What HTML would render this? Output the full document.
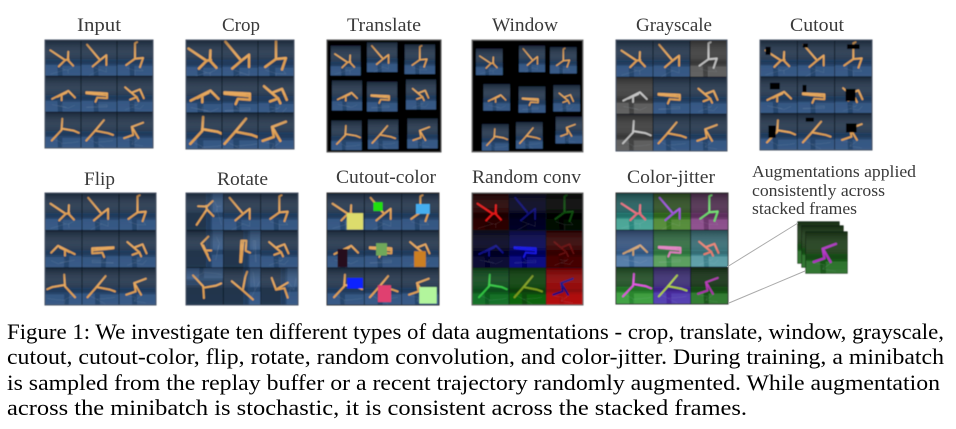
<!DOCTYPE html>
<html>
<head>
<meta charset="utf-8">
<style>
html,body{margin:0;padding:0;background:#fff;}
svg{display:block;}
.title{font-family:"Liberation Serif",serif;font-size:19px;fill:#3a3a3a;}
.note{font-family:"Liberation Serif",serif;font-size:17px;fill:#3a3a3a;}
.cap{font-family:"Liberation Serif",serif;font-size:21.7px;fill:#000;}
</style>
</head>
<body>
<svg id="fig" xmlns="http://www.w3.org/2000/svg" width="956" height="429" viewBox="0 0 956 429">
<defs>
<filter id="soft" x="-5%" y="-5%" width="110%" height="110%"><feGaussianBlur stdDeviation="0.4"/></filter>
<linearGradient id="shade" x1="0" y1="0" x2="0" y2="1">
<stop offset="0" stop-color="#000" stop-opacity=".28"/>
<stop offset=".5" stop-color="#fff" stop-opacity=".04"/>
<stop offset=".56" stop-color="#000" stop-opacity=".05"/>
<stop offset="1" stop-color="#000" stop-opacity="0"/>
</linearGradient>
</defs>
<g id="grids" filter="url(#soft)"></g>
<line x1="727" y1="267" x2="798" y2="223" stroke="#aaa" stroke-width="1"/>
<line x1="729" y1="303" x2="805" y2="271" stroke="#aaa" stroke-width="1"/>

<text class="title" x="77" y="31" textLength="44" lengthAdjust="spacingAndGlyphs">Input</text>
<text class="title" x="222" y="31" textLength="38" lengthAdjust="spacingAndGlyphs">Crop</text>
<text class="title" x="347" y="31" textLength="74" lengthAdjust="spacingAndGlyphs">Translate</text>
<text class="title" x="492" y="31" textLength="66" lengthAdjust="spacingAndGlyphs">Window</text>
<text class="title" x="636" y="31" textLength="76" lengthAdjust="spacingAndGlyphs">Grayscale</text>
<text class="title" x="790" y="31" textLength="54" lengthAdjust="spacingAndGlyphs">Cutout</text>
<text class="title" x="84" y="185" textLength="31" lengthAdjust="spacingAndGlyphs">Flip</text>
<text class="title" x="217" y="185" textLength="51" lengthAdjust="spacingAndGlyphs">Rotate</text>
<text class="title" x="336" y="183" textLength="100" lengthAdjust="spacingAndGlyphs">Cutout-color</text>
<text class="title" x="472" y="183" textLength="109" lengthAdjust="spacingAndGlyphs">Random conv</text>
<text class="title" x="627" y="183" textLength="88" lengthAdjust="spacingAndGlyphs">Color-jitter</text>

<text class="note" x="752" y="177" textLength="164" lengthAdjust="spacingAndGlyphs">Augmentations applied</text>
<text class="note" x="752" y="196" textLength="133" lengthAdjust="spacingAndGlyphs">consistently across</text>
<text class="note" x="752" y="214" textLength="105" lengthAdjust="spacingAndGlyphs">stacked frames</text>

<text class="cap" x="7" y="339" textLength="937" lengthAdjust="spacingAndGlyphs">Figure 1: We investigate ten different types of data augmentations - crop, translate, window, grayscale,</text>
<text class="cap" x="7" y="364" textLength="937" lengthAdjust="spacingAndGlyphs">cutout, cutout-color, flip, rotate, random convolution, and color-jitter. During training, a minibatch</text>
<text class="cap" x="7" y="390" textLength="933" lengthAdjust="spacingAndGlyphs">is sampled from the replay buffer or a recent trajectory randomly augmented. While augmentation</text>
<text class="cap" x="7" y="415" textLength="740" lengthAdjust="spacingAndGlyphs">across the minibatch is stochastic, it is consistent across the stacked frames.</text>
</svg>
<script>
var NS = 'http://www.w3.org/2000/svg';
var poses = [
 [[[.14,.28],[.56,.56],[.38,.74]],[[.65,.32],[.64,.56],[.79,.72]],[[.56,.56],[.66,.54]]],
 [[[.16,.12],[.53,.56],[.32,.74]],[[.53,.56],[.71,.42],[.71,.70]]],
 [[[.56,.05],[.50,.08],[.50,.52],[.25,.70]],[[.50,.52],[.73,.50],[.64,.76]]],
 [[[.19,.64],[.65,.41],[.84,.60]],[[.46,.52],[.46,.68]],[[.60,.46],[.34,.58]]],
 [[[.14,.45],[.73,.48],[.73,.62],[.45,.60],[.40,.72]],[[.14,.48],[.73,.54]]],
 [[[.22,.31],[.55,.59],[.36,.66]],[[.41,.46],[.64,.37],[.75,.62]],[[.55,.59],[.60,.70]]],
 [[[.48,.18],[.46,.50],[.18,.80]],[[.46,.46],[.81,.52],[.95,.58]]],
 [[[.64,.22],[.39,.52],[.14,.80]],[[.39,.52],[.76,.59],[.90,.64]]],
 [[[.73,.29],[.41,.41],[.45,.64],[.19,.73]],[[.41,.41],[.60,.73]]]
];
var base = {sky:'#24374f',floor:'#27476f',check:'#3f6290',body:'#e6a556'};
var gray = {sky:'#3e3e3e',floor:'#444',check:'#6e6e6e',body:'#c4c4c4'};
var convStyles = [
 {sky:'#240000',floor:'#240000',check:'#300000',body:'#e81414'},
 {sky:'#05051e',floor:'#04041e',check:'#060628',body:'#0c0c78'},
 {sky:'#020402',floor:'#020602',check:'#041004',body:'#0a4a0a'},
 {sky:'#050520',floor:'#06062a',check:'#0a0a3a',body:'#12128a'},
 {sky:'#050552',floor:'#040468',check:'#0a0a90',body:'#1414e6'},
 {sky:'#340000',floor:'#3c0000',check:'#4a0404',body:'#640808'},
 {sky:'#0e4c1c',floor:'#0e5e20',check:'#1a7c2e',body:'#34c844'},
 {sky:'#0c420c',floor:'#0a4c0a',check:'#107010',body:'#80a020'},
 {sky:'#900000',floor:'#a80a0a',check:'#b81212',body:'#101084'}
];
var jitterStyles = [
 {sky:'#236060',floor:'#2a8a80',check:'#5cb4a4',body:'#f07080'},
 {sky:'#2e5022',floor:'#3a7a24',check:'#669a48',body:'#a452e2'},
 {sky:'#502e50',floor:'#703a70',check:'#9c5c9c',body:'#72e272'},
 {sky:'#365480',floor:'#3d6a9a',check:'#648ab2',body:'#d4a674'},
 {sky:'#316e42',floor:'#3a8a4a',check:'#6cac6c',body:'#e482c4'},
 {sky:'#376c74',floor:'#40858f',check:'#6cacb4',body:'#f08272'},
 {sky:'#205024',floor:'#2a8a30',check:'#4cac4c',body:'#e452e4'},
 {sky:'#3c2e76',floor:'#4a2ca2',check:'#5c4cba',body:'#b4d444'},
 {sky:'#173417',floor:'#1a5a1a',check:'#3c8c3c',body:'#b232b2'}
];
var cutoutBoxes = [
 [.14,.18,.14,.22],[.14,.09,.14,.11],[.33,.11,.34,.13],
 [.26,.16,.27,.18],[.13,.22,.11,.20],[.29,.33,.27,.34],
 [.22,.33,.20,.34],[.22,.11,.22,.11],[.30,.27,.29,.25]
];
var colorBoxes = [
 [.53,.54,.45,.45],[.24,.24,.25,.24],[.38,.29,.38,.27],
 [.28,.50,.27,.50],[.31,.34,.30,.34],[.33,.56,.32,.43],
 [.54,.27,.43,.29],[.36,.47,.36,.46],[.47,.52,.48,.45]
];
var colorFills = ['#dcdc6c','#22e010','#44aef0','#28091a','#70a85a','#cc7f22','#0a20ff','#e04070','#b2f59c'];
var cutoutFills = ['#000','#000','#000','#000','#000','#000','#000','#000','#000'];
var translateInsets = [
 [32,137,122,226],[141,127,232,216],[254,133,345,222],
 [36,241,126,331],[141,245,232,334],[258,238,348,328],
 [34,361,125,450],[144,358,235,447],[262,355,353,445]
];
var windowInsets = [
 [468,146,548,225],[597,137,675,216],[690,141,770,220],
 [490,252,570,332],[596,259,676,338],[700,255,780,334],
 [486,372,566,452],[588,366,668,446],[707,350,787,430]
];
var root = document.getElementById('grids');
var clipId = 0;

function el(tag, attrs, parent) {
  var n = document.createElementNS(NS, tag);
  for (var k in attrs) n.setAttribute(k, attrs[k]);
  parent.appendChild(n);
  return n;
}

function pointsOf(line, mirrorFloor) {
  return line.map(function (p) {
    return p[0] + ',' + (mirrorFloor ? 0.75 + (0.75 - p[1]) * 0.45 : p[1]);
  }).join(' ');
}

function drawCell(parent, name, x, y, w, h, i, style, view, box, boxFill, sw) {
  var g = el('g', {}, parent);
  
  
  var id = 'c' + (clipId++);
  var cp = el('clipPath', {id: id}, g);
  el('rect', {x: x, y: y, width: w, height: h}, cp);
  var clip = el('g', {'clip-path': 'url(#' + id + ')'}, g);
  var t = 'translate(' + x + ' ' + y + ') scale(' + w + ' ' + h + ')';
  var inner = el('g', {transform: t}, clip);
  var scene = el('g', {transform: view || ''}, inner);
  el('rect', {x: -.5, y: -.5, width: 2, height: 2, fill: style.sky}, scene);
  el('rect', {x: -.5, y: .54, width: 2, height: 1, fill: style.floor}, scene);
  el('polygon', {points: '-.5,.70 .34,.70 .38,1.5 -.5,1.5', fill: style.check, opacity: .75}, scene);
  el('polygon', {points: '.48,.72 1.5,.72 1.5,1.5 .50,1.5', fill: style.check, opacity: .7}, scene);
  el('rect', {x: -.5, y: .56, width: 2, height: .1, fill: '#000', opacity: .14}, scene);
  poses[i].forEach(function (line) {
    el('polyline', {points: pointsOf(line, true), fill: 'none', stroke: '#cfd8e6', 'stroke-width': .014, opacity: .16}, scene);
  });
  poses[i].forEach(function (line) {
    el('polyline', {points: pointsOf(line, false), fill: 'none', stroke: style.body, 'stroke-width': sw || .054, 'stroke-linejoin': 'round', 'stroke-linecap': 'round'}, scene);
  });
  el('rect', {x: 0, y: 0, width: 1, height: 1, fill: 'url(#shade)'}, inner);
  if (box) {
    el('rect', {x: box[0], y: box[1], width: box[2], height: box[3], fill: boxFill}, inner);
  }
}

function drawGrid(name, x0, y0, x1, y1, o) {
  o = o || {};
  var g = el('g', {}, root);
  
  
  var W = x1 - x0, H = y1 - y0;
  el('rect', {x: x0, y: y0, width: W, height: H, fill: o.inset ? '#000' : '#0c141f'}, g);
  for (var i = 0; i < 9; i++) {
    var col = i % 3, row = Math.floor(i / 3);
    var cx = x0 + col * W / 3 + .4, cy = y0 + row * H / 3 + .4, cw = W / 3 - .8, ch = H / 3 - .8;
    if (o.inset) {
      var r = o.inset[i];
      cx = o.ox + r[0] / 3; cy = r[1] / 3; cw = (r[2] - r[0]) / 3; ch = (r[3] - r[1]) / 3;
    }
    var style = o.styles ? o.styles[i] : (o.grayCells && o.grayCells.indexOf(i) >= 0 ? gray : base);
    var view = o.views ? o.views[i] : o.view;
    drawCell(g, name + '-cell-' + (i + 1), cx, cy, cw, ch, i, style, view,
      o.boxes ? o.boxes[i] : null, o.fills ? o.fills[i] : null, o.sw);
  }
  el('rect', {x: x0, y: y0, width: W, height: H, fill: 'none', stroke: o.frame || '#4a5566', 'stroke-width': 1}, g);
}

var zoomView = 'translate(.5 .5) scale(1.22) translate(-.5 -.5)';
var mirror = 'translate(1 0) scale(-1 1)';
var ccw = 'rotate(-90 .5 .5)';
var half = 'rotate(180 .5 .5) translate(1 0) scale(-1 1)';

drawGrid('input', 45, 40, 153, 148);
drawGrid('crop', 186, 40, 294, 149, {view: zoomView, sw: .058});
drawGrid('translate', 327, 40, 441, 152, {inset: translateInsets, ox: 320, frame: '#555'});
drawGrid('window', 472, 40, 583, 152, {inset: windowInsets, ox: 320, frame: '#777'});
drawGrid('grayscale', 616, 40, 727, 151, {grayCells: [2, 3, 6]});
drawGrid('cutout', 760, 40, 872, 150, {boxes: cutoutBoxes, fills: cutoutFills});
drawGrid('flip', 45, 193, 156, 305, {views: ['', '', '', mirror, mirror, '', mirror, '', '']});
drawGrid('rotate', 186, 193, 298, 305, {views: [ccw, '', '', ccw, ccw, '', half, ccw, ccw]});
drawGrid('cutout-color', 327, 193, 439, 305, {boxes: colorBoxes, fills: colorFills, frame: '#333'});
drawGrid('random-conv', 472, 193, 583, 305, {styles: convStyles, frame: '#666'});
drawGrid('color-jitter', 616, 193, 728, 304, {styles: jitterStyles, frame: '#333'});

var stack = el('g', {}, root);


var frameStyle = {sky:'#1f3f1a',floor:'#1a5a1a',check:'#3a823a',body:'#b232c4'};
[[798, 222], [802, 226], [806, 232]].forEach(function (pos, idx) {
  el('rect', {x: pos[0] - .6, y: pos[1] - .6, width: 42.2, height: 42.2, fill: '#0b1a0b'}, stack);
  drawCell(stack, 'stacked-frame-' + (idx + 1), pos[0], pos[1], 41, 41, 8, frameStyle, '', null, null, .06);
});
</script>
</body>
</html>
